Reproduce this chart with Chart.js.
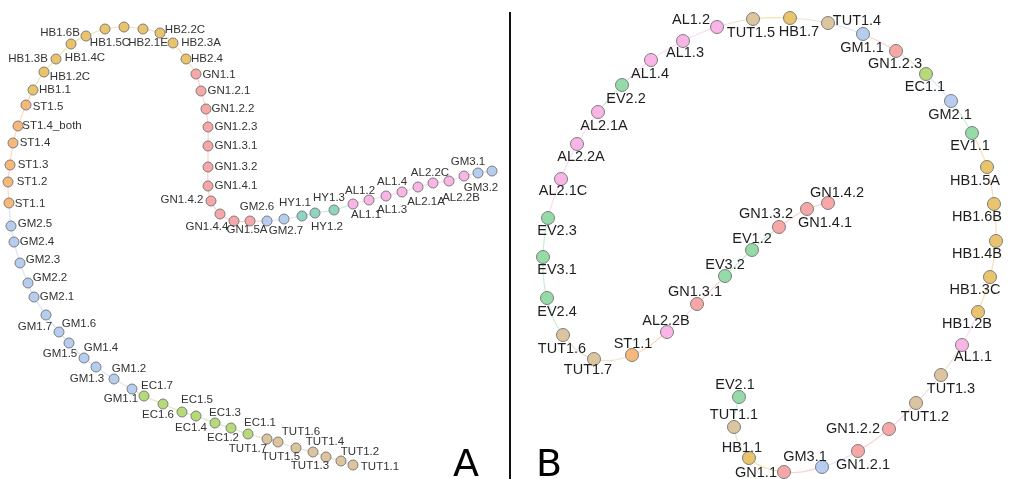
<!DOCTYPE html>
<html>
<head>
<meta charset="utf-8">
<script src="https://cdn.jsdelivr.net/npm/chart.js@4"></script>
<style>
  html, body { margin: 0; padding: 0; background: #fff; }
  #wrap { width: 1029px; height: 479px; }
</style>
</head>
<body>
<div id="wrap"><canvas id="myChart" width="1029" height="479"></canvas></div>
<script>
// panel A: path from TUT1.1 round to GM3.2 (layout positions)
const namesA = ['TUT1.1','TUT1.2','TUT1.3','TUT1.4','TUT1.5','TUT1.6','TUT1.7',
  'EC1.1','EC1.2','EC1.3','EC1.4','EC1.5','EC1.6','EC1.7',
  'GM1.1','GM1.2','GM1.3','GM1.4','GM1.5','GM1.6','GM1.7',
  'GM2.1','GM2.2','GM2.3','GM2.4','GM2.5',
  'ST1.1','ST1.2','ST1.3','ST1.4','ST1.4_both','ST1.5',
  'HB1.1','HB1.2C','HB1.3B','HB1.4C','HB1.6B','HB1.5C','HB','HB2.1E','HB2.2C','HB2.3A','HB2.4',
  'GN1.1','GN1.2.1','GN1.2.2','GN1.2.3','GN1.3.1','GN1.3.2','GN1.4.1','GN1.4.2','GN1.4.4','GN1.5A','GN',
  'GM2.6','GM2.7','HY1.1','HY1.2','HY1.3',
  'AL1.1','AL1.2','AL1.3','AL1.4','AL2.1A','AL2.2C','AL2.2B','AL',
  'GM3.1','GM3.2'];
const xA = [353,341,326,313,296,278,267,
  248,231,215,196,182,163,144,
  132,114,96,84,69,59,46,
  34,28,20,14,11,
  9,8,10,13,18,26,
  33,44,56,71,86,105,124,143,160,173,186,
  196,201,206,208,208,208,208,211,220,234,250,
  267,284,302,315,334,
  353,369,386,402,418,433,449,464,
  478,492];
const yA = [465,461,457,452,448,442,439,
  434,428,423,416,412,404,396,
  389,379,367,358,343,332,315,
  297,283,263,242,226,
  203,182,165,143,126,105,
  90,72,59,44,36,29,27,29,33,43,59,
  74,91,109,127,146,167,186,201,214,221,221,
  221,219,216,213,210,
  204,200,196,192,187,183,181,176,
  173,171];
// nodes whose label is not shown in the picture
const hiddenA = ['HB','GN','AL'];

// panel B: path from EV2.1 round to GN1.4.2
const namesB = ['EV2.1','TUT1.1','HB1.1','GN1.1','GM3.1','GN1.2.1','GN1.2.2','TUT1.2','TUT1.3','AL1.1',
  'HB1.2B','HB1.3C','HB1.4B','HB1.6B','HB1.5A','EV1.1','GM2.1','EC1.1','GN1.2.3','GM1.1',
  'TUT1.4','HB1.7','TUT1.5','AL1.2','AL1.3','AL1.4','EV2.2','AL2.1A','AL2.2A','AL2.1C',
  'EV2.3','EV3.1','EV2.4','TUT1.6','TUT1.7','ST1.1','AL2.2B','GN1.3.1','EV3.2','EV1.2',
  'GN1.3.2','GN1.4.1','GN1.4.2'];
const xB = [739,734,749,784,822,858,889,916,941,962,
  978,990,996,994,987,972,951,926,896,863,
  828,790,753,717,683,651,622,598,577,561,
  548,543,547,563,594,632,667,697,725,752,
  779,807,828];
const yB = [397,427,458,472,467,451,429,403,375,345,
  312,277,241,204,167,133,101,74,51,34,
  23,18,19,27,41,60,85,112,144,179,
  218,257,298,335,359,355,332,304,276,250,
  227,209,203];

// label placement (offset of the label centre from its node, px)
const offA = [[27,2],[19,-9],[-16,9],[12,-10],[-15,9],[23,-10],[-19,10],
  [12,-11],[-8,10],[10,-10],[-5,12],[15,-12],[-5,11],[13,-10],
  [-11,10],[15,-10],[-9,12],[17,-10],[-9,11],[20,-8],[-11,12],
  [23,0],[22,-5],[23,-3],[23,0],[24,-2],
  [21,1],[24,0],[23,0],[22,0],[34,0],[22,2],
  [22,0],[26,5],[-28,0],[14,14],[-26,-3],[5,14],[0,0],[5,14],[25,-3],[28,0],[21,0],
  [23,1],[28,0],[27,0],[28,0],[28,0],[28,0],[28,0],[-29,-1],[-13,13],[13,9],[0,0],
  [-10,-14],[2,12],[-7,-13],[12,14],[-5,-12],
  [13,11],[-9,-9],[6,14],[-10,-10],[8,15],[-3,-10],[12,17],[0,0],
  [-10,-11],[-11,17]];
const offB = [[-4,-12],[0,-12],[-7,-10],[-28,1],[-17,-10],[5,14],[-36,0],[9,14],[10,14],[11,12],
  [-11,12],[-15,13],[-19,13],[-17,13],[-12,14],[-2,13],[-1,14],[-1,13],[-1,13],[-1,14],
  [29,-2],[9,14],[-2,14],[-26,-7],[2,12],[-1,14],[4,14],[6,14],[4,13],[2,12],
  [9,13],[14,13],[10,14],[-1,14],[-6,11],[1,-11],[-1,-11],[-2,-12],[0,-11],[0,-11],
  [-13,-13],[18,14],[9,-10]];

const groupColors = {
  HB: '#e9c46c', ST: '#f8b77b', GN: '#f6a7a6', GM: '#b6cdf0', EC: '#b6d97a',
  TUT: '#dcc49f', HY: '#8ed5c1', AL: '#f8b5e5', EV: '#94dba8'
};
function colorOf(name) {
  const g = name.match(/^[A-Z]+/)[0];
  return groupColors[g] || '#cccccc';
}
function fade(hex, a) {
  const n = parseInt(hex.slice(1), 16);
  return 'rgba(' + (n >> 16) + ',' + ((n >> 8) & 255) + ',' + (n & 255) + ',' + a + ')';
}

const dividerX = 510;

function makeSet(names, xs, ys, offs, radius, fontSize) {
  return {
    data: xs.map((x, i) => ({ x: x, y: ys[i] })),
    names: names,
    offs: offs,
    fontSize: fontSize,
    showLine: true,
    tension: 0.4,
    borderWidth: 1.2,
    segment: {
      borderColor: c => fade(colorOf(names[c.p0DataIndex]), 0.5)
    },
    pointRadius: radius,
    pointBackgroundColor: names.map(colorOf),
    pointBorderColor: '#7d7d7d',
    pointBorderWidth: 1
  };
}

const labelPlugin = {
  id: 'nodeLabels',
  beforeDatasetsDraw(chart) {
    const c = chart.ctx;
    const xs = chart.scales.x, ys = chart.scales.y;
    c.save();
    c.strokeStyle = '#111';
    c.lineWidth = 2;
    c.beginPath();
    c.moveTo(xs.getPixelForValue(dividerX), ys.getPixelForValue(12));
    c.lineTo(xs.getPixelForValue(dividerX), ys.getPixelForValue(479));
    c.stroke();
    c.restore();
  },
  afterDatasetsDraw(chart) {
    const c = chart.ctx;
    c.save();
    c.textAlign = 'center';
    c.textBaseline = 'middle';
    chart.data.datasets.forEach((ds, di) => {
      const meta = chart.getDatasetMeta(di);
      c.font = ds.fontSize + 'px "Liberation Sans", Arial, sans-serif';
      c.fillStyle = di === 0 ? '#333' : '#1e1e1e';
      meta.data.forEach((pt, i) => {
        const name = ds.names[i];
        if (di === 0 && hiddenA.includes(name)) return;
        c.fillText(name, pt.x + ds.offs[i][0], pt.y + ds.offs[i][1]);
      });
    });
    c.font = '38px "DejaVu Sans", sans-serif';
    c.fillStyle = '#000';
    c.textBaseline = 'alphabetic';
    c.fillText('A', 466, 476);
    c.fillText('B', 549, 476);
    c.restore();
  }
};

const ctx = document.getElementById('myChart').getContext('2d');
const myChart = new Chart(ctx, {
  type: 'scatter',
  data: {
    datasets: [
      makeSet(namesA, xA, yA, offA, 5, 11.5),
      makeSet(namesB, xB, yB, offB, 6.5, 14.5)
    ]
  },
  options: {
    responsive: false,
    animation: false,
    layout: { padding: 0, autoPadding: false },
    plugins: { legend: { display: false }, tooltip: { enabled: false } },
    scales: {
      x: { type: 'linear', min: 0, max: 1029, display: false },
      y: { type: 'linear', min: 0, max: 479, reverse: true, display: false }
    }
  },
  plugins: [labelPlugin]
});
</script>
</body>
</html>
